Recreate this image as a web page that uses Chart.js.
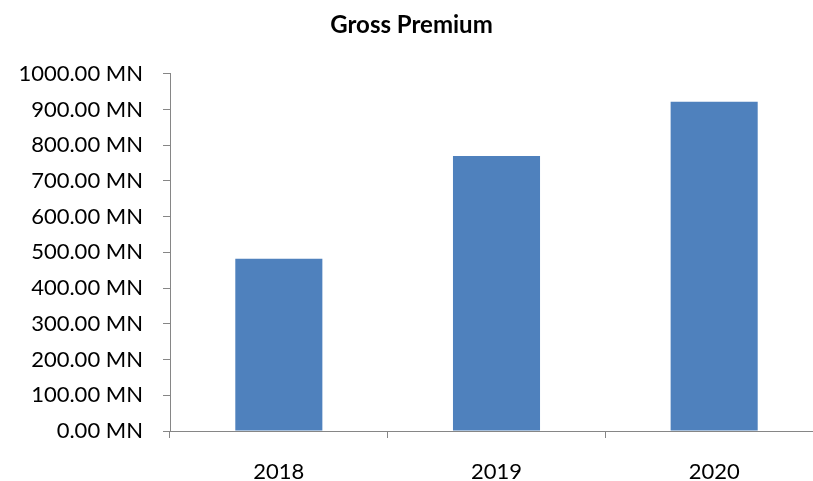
<!DOCTYPE html>
<html>
<head>
<meta charset="utf-8">
<script src="https://cdn.jsdelivr.net/npm/chart.js@4/dist/chart.umd.min.js"></script>
<style>
    html, body { margin: 0; padding: 0; background: #fff; overflow: hidden; }
    #wrap { width: 823px; height: 481px; }
</style>
</head>
<body>
<div id="wrap"><canvas id="myChart"></canvas></div>
<script>
// gross premium per year, in millions
const years = ['2018', '2019', '2020'];
const grossPremium = [482, 770, 922];
const yMin = 0;
const yMax = 1000;
const yStep = 100;

const axisColor = '#868686';
const barColor = '#4f81bd';
const labelFont = { family: 'Lato', size: 22 };

const canvas = /** @type {HTMLCanvasElement} */ (document.getElementById('myChart'));
const ctx = canvas.getContext('2d');

new Chart(ctx, {
    type: 'bar',
    data: {
        labels: years,
        datasets: [{
            label: 'Gross Premium',
            data: grossPremium,
            backgroundColor: barColor,
            borderWidth: 0,
            barPercentage: 0.4,
            categoryPercentage: 1
        }]
    },
    options: {
        responsive: true,
        maintainAspectRatio: false,
        animation: false,
        layout: { padding: { left: 0, right: 0, top: 0, bottom: 0 } },
        plugins: {
            legend: { display: false },
            tooltip: { enabled: false },
            title: {
                display: true,
                text: 'Gross Premium',
                color: '#000',
                font: { family: 'Lato', size: 24, weight: 'bold' },
                padding: { top: 11, bottom: 34 }
            }
        },
        scales: {
            x: {
                offset: true,
                grid: {
                    offset: true,
                    drawOnChartArea: false,
                    drawTicks: true,
                    tickLength: 7,
                    color: axisColor
                },
                border: { color: axisColor, width: 1 },
                ticks: {
                    color: '#000',
                    font: labelFont,
                    padding: 21
                },
                afterFit: scale => { scale.height = 50; }
            },
            y: {
                min: yMin,
                max: yMax,
                grid: {
                    drawOnChartArea: false,
                    drawTicks: true,
                    tickLength: 7,
                    color: axisColor
                },
                border: { color: axisColor, width: 1 },
                ticks: {
                    stepSize: yStep,
                    autoSkip: false,
                    color: '#000',
                    font: labelFont,
                    padding: 20,
                    callback: value => Number(value).toFixed(2) + ' MN'
                },
                afterFit: scale => { scale.width = 170; }
            }
        }
    }
});
</script>
</body>
</html>
